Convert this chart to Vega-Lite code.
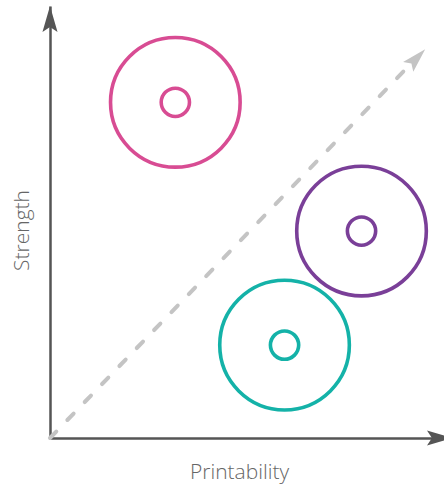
{
  "$schema": "https://vega.github.io/schema/vega-lite/v6.json",
  "autosize": {"type": "none"},
  "width": 394,
  "height": 432,
  "padding": {"left": 50, "top": 6, "right": 0, "bottom": 46},
  "background": "white",
  "config": {"view": {"stroke": null}},
  "datasets": {
    "groups": [
      {"name": "A", "printability": 3.11, "strength": 7.77},
      {"name": "B", "printability": 7.73, "strength": 4.79},
      {"name": "C", "printability": 5.82, "strength": 2.15}
    ],
    "trend": [
      {"x": 0, "y": 0, "x2": 8.96, "y2": 8.67}
    ],
    "trendHead": [
      {"x": 9.31, "y": 9.0}
    ],
    "axisHeads": [
      {"x": 0, "y": 10, "dir": "up"},
      {"x": 10, "y": 0, "dir": "right"}
    ]
  },
  "layer": [
    {
      "data": {"name": "trend"},
      "mark": {"type": "rule", "color": "#c4c4c4", "strokeWidth": 4, "strokeDash": [9, 16], "strokeCap": "round"},
      "encoding": {
        "x": {"field": "x", "type": "quantitative", "scale": {"domain": [0, 10], "range": [0, 403], "nice": false, "zero": false},
          "axis": {"domainColor": "#555555", "domainWidth": 2.5, "ticks": false, "labels": false, "grid": false,
            "title": "Printability", "titleX": 189, "titleY": 40, "titleBaseline": "alphabetic", "titleAlign": "center",
            "titleFont": "Open Sans", "titleFontWeight": 300, "titleFontSize": 21, "titleColor": "#666666"}},
        "y": {"field": "y", "type": "quantitative", "scale": {"domain": [0, 10], "nice": false, "zero": false},
          "axis": {"domainColor": "#555555", "domainWidth": 2.5, "ticks": false, "labels": false, "grid": false,
            "title": "Strength", "titleX": -22, "titleY": 224, "titleAngle": -90, "titleBaseline": "alphabetic", "titleAlign": "center",
            "titleFont": "Open Sans", "titleFontWeight": 300, "titleFontSize": 21, "titleColor": "#666666"}},
        "x2": {"field": "x2"},
        "y2": {"field": "y2"}
      }
    },
    {
      "data": {"name": "trendHead"},
      "mark": {"type": "point", "shape": "M0,0L-2,-0.58L-1.62,0L-2,0.58Z", "filled": true, "color": "#c4c4c4", "opacity": 1, "size": 600, "angle": -46},
      "encoding": {
        "x": {"field": "x", "type": "quantitative"},
        "y": {"field": "y", "type": "quantitative"}
      }
    },
    {
      "data": {"name": "axisHeads"},
      "mark": {"type": "point", "shape": "M0,0L-2,-0.58L-1.62,0L-2,0.58Z", "filled": true, "color": "#555555", "opacity": 1, "size": 676},
      "encoding": {
        "x": {"field": "x", "type": "quantitative"},
        "y": {"field": "y", "type": "quantitative"},
        "angle": {"field": "dir", "type": "nominal", "scale": {"domain": ["up", "right"], "range": [-90, 0]}, "legend": null}
      }
    },
    {
      "data": {"name": "groups"},
      "mark": {"type": "point", "filled": false, "strokeWidth": 3.6, "opacity": 1, "size": 16800},
      "encoding": {
        "x": {"field": "printability", "type": "quantitative"},
        "y": {"field": "strength", "type": "quantitative"},
        "color": {"field": "name", "type": "nominal", "scale": {"domain": ["A", "B", "C"], "range": ["#d84c93", "#7a3f98", "#14b2a8"]}, "legend": null}
      }
    },
    {
      "data": {"name": "groups"},
      "mark": {"type": "point", "filled": false, "strokeWidth": 3.6, "opacity": 1, "size": 800},
      "encoding": {
        "x": {"field": "printability", "type": "quantitative"},
        "y": {"field": "strength", "type": "quantitative"},
        "color": {"field": "name", "type": "nominal", "legend": null}
      }
    }
  ]
}
